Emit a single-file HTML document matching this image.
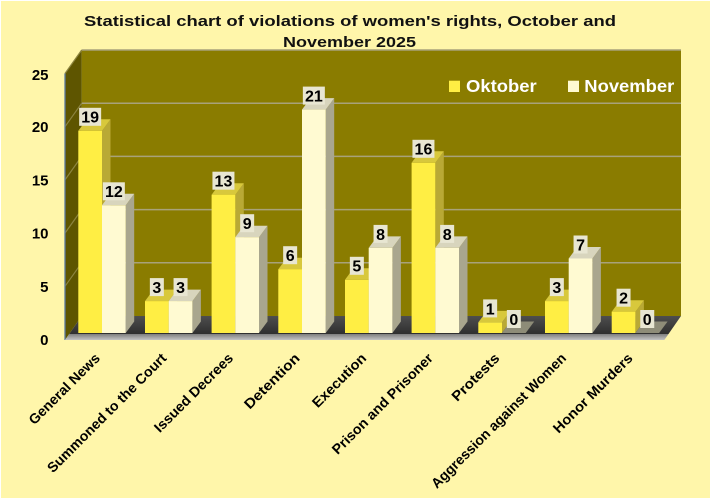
<!DOCTYPE html>
<html>
<head>
<meta charset="utf-8">
<style>
html,body{margin:0;padding:0;background:#ffffff;}
svg{display:block;}
text{font-family:"Liberation Sans",sans-serif;font-weight:bold;}
</style>
</head>
<body>
<svg width="715" height="501" viewBox="0 0 715 501" xmlns="http://www.w3.org/2000/svg">
<defs>
<linearGradient id="floorTop" x1="0" y1="0" x2="0" y2="1">
<stop offset="0" stop-color="#4e4e4e"/>
<stop offset="1" stop-color="#2f2f2f"/>
</linearGradient>
<linearGradient id="floorFront" x1="0" y1="0" x2="0" y2="1">
<stop offset="0" stop-color="#7e7e7e"/>
<stop offset="1" stop-color="#c4c4c4"/>
</linearGradient>
</defs>

<rect x="1" y="1" width="709" height="497" fill="#FFF6AA"/>

<!-- Title -->
<text x="350" y="26" font-size="15" text-anchor="middle" textLength="532" lengthAdjust="spacingAndGlyphs" fill="#111">Statistical chart of violations of women's rights, October and</text>
<text x="349.5" y="47" font-size="15" text-anchor="middle" textLength="133" lengthAdjust="spacingAndGlyphs" fill="#111">November 2025</text>

<!-- Back wall -->
<rect x="81.7" y="50" width="599.3" height="266" fill="#8A7C00"/>
<g stroke="#A8A27A" stroke-width="1.5">
<line x1="81.7" y1="50" x2="681" y2="50"/>
<line x1="81.7" y1="103.2" x2="681" y2="103.2"/>
<line x1="81.7" y1="156.4" x2="681" y2="156.4"/>
<line x1="81.7" y1="209.6" x2="681" y2="209.6"/>
<line x1="81.7" y1="262.8" x2="681" y2="262.8"/>
</g>

<!-- Left wall -->
<polygon points="65,73.5 81.7,50 81.7,316 65,340" fill="#5E5500"/>
<g stroke="#8C8440" stroke-width="1.2">
<line x1="65" y1="126.7" x2="81.7" y2="103.2"/>
<line x1="65" y1="179.9" x2="81.7" y2="156.4"/>
<line x1="65" y1="233.1" x2="81.7" y2="209.6"/>
<line x1="65" y1="286.3" x2="81.7" y2="262.8"/>
<line x1="65" y1="73.5" x2="81.7" y2="50"/>
</g>
<line x1="65" y1="73.5" x2="65" y2="340" stroke="#5A7AA0" stroke-width="1.3"/>

<!-- Floor -->
<polygon points="81.7,316 681,316 668.5,334 69.2,334" fill="url(#floorTop)"/>
<polygon points="69.2,334 668.5,334 664.3,340 65,340" fill="url(#floorFront)"/>

<!-- Bars -->
<g transform="translate(78.3,130.8)"><polygon points="23.7,0 32.2,-11.5 32.2,190.7 23.7,202.2" fill="#B9A935"/><polygon points="0,0 23.7,0 32.2,-11.5 8.5,-11.5" fill="#D8C83C"/><rect x="0" y="0" width="23.7" height="202.2" fill="#FFEE44"/></g>
<g transform="translate(102,205.3)"><polygon points="23.7,0 32.2,-11.5 32.2,116.2 23.7,127.7" fill="#A9A68E"/><polygon points="0,0 23.7,0 32.2,-11.5 8.5,-11.5" fill="#D8D5BD"/><rect x="0" y="0" width="23.7" height="127.7" fill="#FFFAD2"/></g>
<g transform="translate(145,301.1)"><polygon points="23.7,0 32.2,-11.5 32.2,20.4 23.7,31.9" fill="#B9A935"/><polygon points="0,0 23.7,0 32.2,-11.5 8.5,-11.5" fill="#D8C83C"/><rect x="0" y="0" width="23.7" height="31.9" fill="#FFEE44"/></g>
<g transform="translate(168.7,301.1)"><polygon points="23.7,0 32.2,-11.5 32.2,20.4 23.7,31.9" fill="#A9A68E"/><polygon points="0,0 23.7,0 32.2,-11.5 8.5,-11.5" fill="#D8D5BD"/><rect x="0" y="0" width="23.7" height="31.9" fill="#FFFAD2"/></g>
<g transform="translate(211.6,194.7)"><polygon points="23.7,0 32.2,-11.5 32.2,126.8 23.7,138.3" fill="#B9A935"/><polygon points="0,0 23.7,0 32.2,-11.5 8.5,-11.5" fill="#D8C83C"/><rect x="0" y="0" width="23.7" height="138.3" fill="#FFEE44"/></g>
<g transform="translate(235.3,237.2)"><polygon points="23.7,0 32.2,-11.5 32.2,84.3 23.7,95.8" fill="#A9A68E"/><polygon points="0,0 23.7,0 32.2,-11.5 8.5,-11.5" fill="#D8D5BD"/><rect x="0" y="0" width="23.7" height="95.8" fill="#FFFAD2"/></g>
<g transform="translate(278.3,269.2)"><polygon points="23.7,0 32.2,-11.5 32.2,52.3 23.7,63.8" fill="#B9A935"/><polygon points="0,0 23.7,0 32.2,-11.5 8.5,-11.5" fill="#D8C83C"/><rect x="0" y="0" width="23.7" height="63.8" fill="#FFEE44"/></g>
<g transform="translate(302,109.6)"><polygon points="23.7,0 32.2,-11.5 32.2,211.9 23.7,223.4" fill="#A9A68E"/><polygon points="0,0 23.7,0 32.2,-11.5 8.5,-11.5" fill="#D8D5BD"/><rect x="0" y="0" width="23.7" height="223.4" fill="#FFFAD2"/></g>
<g transform="translate(345,279.8)"><polygon points="23.7,0 32.2,-11.5 32.2,41.7 23.7,53.2" fill="#B9A935"/><polygon points="0,0 23.7,0 32.2,-11.5 8.5,-11.5" fill="#D8C83C"/><rect x="0" y="0" width="23.7" height="53.2" fill="#FFEE44"/></g>
<g transform="translate(368.7,247.9)"><polygon points="23.7,0 32.2,-11.5 32.2,73.6 23.7,85.1" fill="#A9A68E"/><polygon points="0,0 23.7,0 32.2,-11.5 8.5,-11.5" fill="#D8D5BD"/><rect x="0" y="0" width="23.7" height="85.1" fill="#FFFAD2"/></g>
<g transform="translate(411.6,162.8)"><polygon points="23.7,0 32.2,-11.5 32.2,158.7 23.7,170.2" fill="#B9A935"/><polygon points="0,0 23.7,0 32.2,-11.5 8.5,-11.5" fill="#D8C83C"/><rect x="0" y="0" width="23.7" height="170.2" fill="#FFEE44"/></g>
<g transform="translate(435.3,247.9)"><polygon points="23.7,0 32.2,-11.5 32.2,73.6 23.7,85.1" fill="#A9A68E"/><polygon points="0,0 23.7,0 32.2,-11.5 8.5,-11.5" fill="#D8D5BD"/><rect x="0" y="0" width="23.7" height="85.1" fill="#FFFAD2"/></g>
<g transform="translate(478.3,322.4)"><polygon points="23.7,0 32.2,-11.5 32.2,-0.9 23.7,10.6" fill="#B9A935"/><polygon points="0,0 23.7,0 32.2,-11.5 8.5,-11.5" fill="#D8C83C"/><rect x="0" y="0" width="23.7" height="10.6" fill="#FFEE44"/></g>
<g transform="translate(502,333)"><polygon points="0,0 23.7,0 32.2,-11.5 8.5,-11.5" fill="#8E8C78"/></g>
<g transform="translate(545,301.1)"><polygon points="23.7,0 32.2,-11.5 32.2,20.4 23.7,31.9" fill="#B9A935"/><polygon points="0,0 23.7,0 32.2,-11.5 8.5,-11.5" fill="#D8C83C"/><rect x="0" y="0" width="23.7" height="31.9" fill="#FFEE44"/></g>
<g transform="translate(568.7,258.5)"><polygon points="23.7,0 32.2,-11.5 32.2,63 23.7,74.5" fill="#A9A68E"/><polygon points="0,0 23.7,0 32.2,-11.5 8.5,-11.5" fill="#D8D5BD"/><rect x="0" y="0" width="23.7" height="74.5" fill="#FFFAD2"/></g>
<g transform="translate(611.7,311.7)"><polygon points="23.7,0 32.2,-11.5 32.2,9.8 23.7,21.3" fill="#B9A935"/><polygon points="0,0 23.7,0 32.2,-11.5 8.5,-11.5" fill="#D8C83C"/><rect x="0" y="0" width="23.7" height="21.3" fill="#FFEE44"/></g>
<g transform="translate(635.4,333)"><polygon points="0,0 23.7,0 32.2,-11.5 8.5,-11.5" fill="#8E8C78"/></g>

<!-- Data labels -->
<g fill="#E8E6D2">
<rect x="79.15" y="107.8" width="22" height="18"/>
<rect x="102.85" y="182.3" width="22" height="18"/>
<rect x="149.85" y="278.1" width="14" height="18"/>
<rect x="173.55" y="278.1" width="14" height="18"/>
<rect x="212.45" y="171.7" width="22" height="18"/>
<rect x="240.15" y="214.2" width="14" height="18"/>
<rect x="283.15" y="246.2" width="14" height="18"/>
<rect x="302.85" y="86.6" width="22" height="18"/>
<rect x="349.85" y="256.8" width="14" height="18"/>
<rect x="373.55" y="224.9" width="14" height="18"/>
<rect x="412.45" y="139.8" width="22" height="18"/>
<rect x="440.15" y="224.9" width="14" height="18"/>
<rect x="483.15" y="299.4" width="14" height="18"/>
<rect x="506.85" y="310" width="14" height="18"/>
<rect x="549.85" y="278.1" width="14" height="18"/>
<rect x="573.55" y="235.5" width="14" height="18"/>
<rect x="616.55" y="288.7" width="14" height="18"/>
<rect x="640.25" y="310" width="14" height="18"/>
</g>
<g font-size="16" text-anchor="middle" fill="#000">
<text x="90.15" y="122.7">19</text>
<text x="113.85" y="197.2">12</text>
<text x="156.85" y="293">3</text>
<text x="180.55" y="293">3</text>
<text x="223.45" y="186.6">13</text>
<text x="247.15" y="229.1">9</text>
<text x="290.15" y="261.1">6</text>
<text x="313.85" y="101.5">21</text>
<text x="356.85" y="271.7">5</text>
<text x="380.55" y="239.8">8</text>
<text x="423.45" y="154.7">16</text>
<text x="447.15" y="239.8">8</text>
<text x="490.15" y="314.3">1</text>
<text x="513.85" y="324.9">0</text>
<text x="556.85" y="293">3</text>
<text x="580.55" y="250.4">7</text>
<text x="623.55" y="303.6">2</text>
<text x="647.25" y="324.9">0</text>
</g>

<!-- Y axis labels -->
<g font-size="15" text-anchor="end" fill="#000">
<text x="48.5" y="80">25</text>
<text x="48.5" y="132.2">20</text>
<text x="48.5" y="185.4">15</text>
<text x="48.5" y="238.6">10</text>
<text x="48.5" y="291.8">5</text>
<text x="48.5" y="345">0</text>
</g>

<!-- Legend -->
<rect x="449" y="80.7" width="11" height="11.3" fill="#FFEE44"/>
<text x="466" y="92" font-size="17.5" fill="#FFFFFF" textLength="70.7" lengthAdjust="spacingAndGlyphs">Oktober</text>
<rect x="568" y="80.7" width="11" height="11.3" fill="#FFFAD2"/>
<text x="584.3" y="92" font-size="17.5" fill="#FFFFFF" textLength="90" lengthAdjust="spacingAndGlyphs">November</text>

<!-- Category labels -->
<g font-size="14" text-anchor="end" fill="#000">
<text transform="translate(100.8,359) rotate(-45)" textLength="94" lengthAdjust="spacingAndGlyphs">General News</text>
<text transform="translate(167.4,359) rotate(-45)" textLength="162" lengthAdjust="spacingAndGlyphs">Summoned to the Court</text>
<text transform="translate(234,359) rotate(-45)" textLength="105" lengthAdjust="spacingAndGlyphs">Issued Decrees</text>
<text transform="translate(300.6,359) rotate(-45)" textLength="72" lengthAdjust="spacingAndGlyphs">Detention</text>
<text transform="translate(367.2,359) rotate(-45)" textLength="70" lengthAdjust="spacingAndGlyphs">Execution</text>
<text transform="translate(433.8,359) rotate(-45)" textLength="136" lengthAdjust="spacingAndGlyphs">Prison and Prisoner</text>
<text transform="translate(500.4,359) rotate(-45)" textLength="61" lengthAdjust="spacingAndGlyphs">Protests</text>
<text transform="translate(567,359) rotate(-45)" textLength="184" lengthAdjust="spacingAndGlyphs">Aggression against Women</text>
<text transform="translate(633.6,359) rotate(-45)" textLength="106" lengthAdjust="spacingAndGlyphs">Honor Murders</text>
</g>
</svg>
</body>
</html>
